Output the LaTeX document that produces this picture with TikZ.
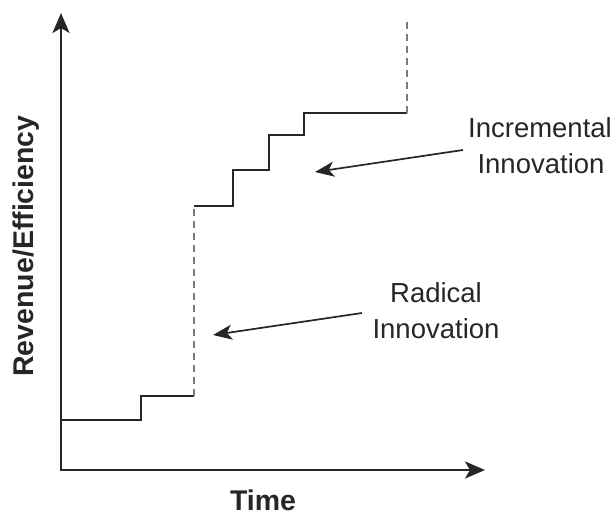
\documentclass[tikz,border=0pt]{standalone}
\usepackage{fontspec}
\setmainfont{Liberation Sans}
\usetikzlibrary{arrows.meta}
\definecolor{ink}{HTML}{262626}
\definecolor{dashgray}{HTML}{7A7A7A}
\tikzset{
  axis/.style={draw=ink, line width=2.6pt, line join=miter},
  stepline/.style={draw=ink, line width=2.1pt},
  jump/.style={draw=dashgray, line width=1.7pt, dash pattern=on 7pt off 5pt},
  note/.style={draw=ink, line width=1.7pt, -{Stealth[length=19pt,width=15pt,inset=5pt]}},
  lbl/.style={text=ink, font=\fontsize{27.5}{33}\selectfont, inner sep=0pt, anchor=base},
  axlbl/.style={text=ink, font=\fontsize{28.5}{33}\selectfont\bfseries, inner sep=0pt, anchor=base},
}
\begin{document}
\begin{tikzpicture}[x=1pt,y=-1pt]
\useasboundingbox (0,0) rectangle (616,515);
\coordinate (ytip) at (61,13);
\coordinate (origin) at (61,470);
\coordinate (xtip) at (485,470);
\draw[axis, {Stealth[length=20pt,width=17pt,inset=5pt]}-{Stealth[length=20pt,width=17pt,inset=5pt]}] (ytip) -- (origin) -- (xtip);

\coordinate (s0) at (61,420);
\coordinate (s1) at (141,420);
\coordinate (s2) at (141,396);
\coordinate (s3) at (194,396);
\coordinate (s4) at (194,206);
\coordinate (s5) at (233,206);
\coordinate (s6) at (233,170);
\coordinate (s7) at (269,170);
\coordinate (s8) at (269,135);
\coordinate (s9) at (304,135);
\coordinate (s10) at (304,113);
\coordinate (s11) at (407,113);
\coordinate (s12) at (407,18);
\draw[stepline] (s0) -- (s1) -- (s2) -- (s3);
\draw[jump] (s3) -- (s4);
\draw[stepline] (s4) -- (s5) -- (s6) -- (s7) -- (s8) -- (s9) -- (s10) -- (s11);
\draw[jump] (s11) -- (s12);

\node[lbl] (inc1) at (540,137) {Incremental};
\node[lbl] (inc2) at (541,173) {Innovation};
\node[lbl] (rad1) at (436,302) {Radical};
\node[lbl] (rad2) at (436,338) {Innovation};

\coordinate (incfrom) at (463,150);
\coordinate (incto) at (315,172);
\coordinate (radfrom) at (362,313);
\coordinate (radto) at (213,335);
\draw[note] (incfrom) -- (incto);
\draw[note] (radfrom) -- (radto);

\node[axlbl, text depth=0pt] (time) at (263,510) {Time};
\node[axlbl, rotate=90] (rev) at (33,246) {Revenue/Efficiency};
\end{tikzpicture}
\end{document}
